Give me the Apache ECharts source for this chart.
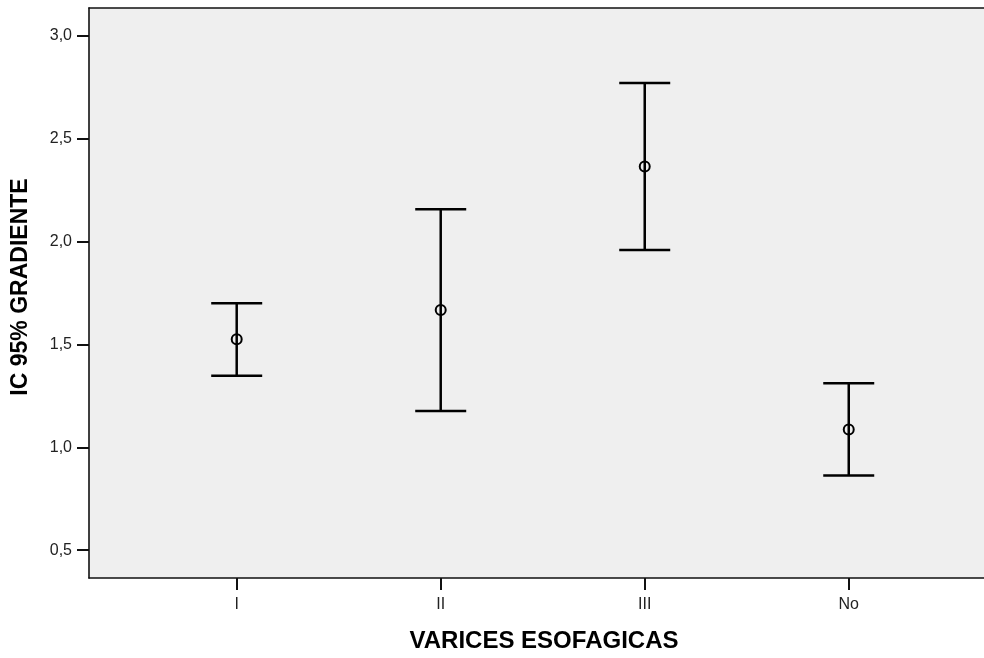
<!DOCTYPE html>
<html>
<head>
<meta charset="utf-8">
<script src="https://cdn.jsdelivr.net/npm/echarts@6/dist/echarts.min.js"></script>
<style>html,body{margin:0;padding:0;background:#fff}#c{width:984px;height:658px}</style>
</head>
<body>
<div id="c"></div>
<script>
var categories = ['I', 'II', 'III', 'No'];
var means = [1.525, 1.667, 2.365, 1.087];
var lower = [1.348, 1.177, 1.959, 0.863];
var upper = [1.700, 2.157, 2.771, 1.311];
var yTicks = [0.5, 1.0, 1.5, 2.0, 2.5, 3.0];

var data = categories.map(function (c, i) { return [i + 1, means[i], lower[i], upper[i]]; });
var xPos = categories.map(function (c, i) { return i + 1; });

var chart = echarts.init(document.getElementById('c'));
var font = '"Liberation Sans", Arial, sans-serif';
chart.setOption({
  animation: false,
  grid: { left: 89, top: 8, right: 0, bottom: 77, show: true, backgroundColor: '#efefef', borderWidth: 0 },
  xAxis: [{
    type: 'value', min: 0.276, max: 4.663,
    name: 'VARICES ESOFAGICAS', nameLocation: 'middle', nameGap: 51,
    nameTextStyle: { fontFamily: font, fontWeight: 'bold', fontSize: 24, color: '#000', padding: [0, 0, 0, 15] },
    axisLine: { show: true, onZero: false, lineStyle: { color: '#111', width: 1.6 } },
    axisTick: { show: true, inside: false, length: 12, lineStyle: { color: '#111', width: 2 }, customValues: xPos },
    axisLabel: { customValues: xPos, margin: 19, fontFamily: font, fontSize: 16, color: '#222',
      formatter: function (v) { return categories[Math.round(v) - 1] || ''; } },
    splitLine: { show: false }
  }, {
    type: 'value', position: 'top', min: 0.276, max: 4.663,
    axisLine: { show: true, onZero: false, lineStyle: { color: '#111', width: 1.6 } },
    axisTick: { show: false }, axisLabel: { show: false }, splitLine: { show: false }
  }],
  yAxis: {
    type: 'value', min: 0.3646, max: 3.1354,
    name: 'IC 95% GRADIENTE', nameLocation: 'middle', nameGap: 57, nameRotate: 90,
    nameTextStyle: { fontFamily: font, fontWeight: 'bold', fontSize: 23, color: '#000', padding: [0, 0, 0, 12] },
    axisLine: { show: true, onZero: false, lineStyle: { color: '#111', width: 1.6 } },
    axisTick: { show: true, inside: false, length: 12, lineStyle: { color: '#111', width: 2 }, customValues: yTicks },
    axisLabel: { customValues: yTicks, margin: 17, fontFamily: font, fontSize: 16, color: '#222',
      formatter: function (v) { return v.toFixed(1).replace('.', ','); } },
    splitLine: { show: false }
  },
  series: [{
    type: 'custom',
    data: data,
    encode: { x: 0, y: [1, 2, 3] },
    renderItem: function (params, api) {
      var x = api.value(0);
      var pm = api.coord([x, api.value(1)]);
      var pl = api.coord([x, api.value(2)]);
      var pu = api.coord([x, api.value(3)]);
      var hw = 25.5;
      var st = { stroke: '#000', lineWidth: 2.5, fill: null };
      return {
        type: 'group',
        children: [
          { type: 'line', shape: { x1: pl[0], y1: pl[1], x2: pu[0], y2: pu[1] }, style: st },
          { type: 'line', shape: { x1: pu[0] - hw, y1: pu[1], x2: pu[0] + hw, y2: pu[1] }, style: st },
          { type: 'line', shape: { x1: pl[0] - hw, y1: pl[1], x2: pl[0] + hw, y2: pl[1] }, style: st },
          { type: 'circle', shape: { cx: pm[0], cy: pm[1], r: 5 }, style: { stroke: '#000', lineWidth: 2, fill: null } }
        ]
      };
    }
  }]
});
</script>
</body>
</html>
